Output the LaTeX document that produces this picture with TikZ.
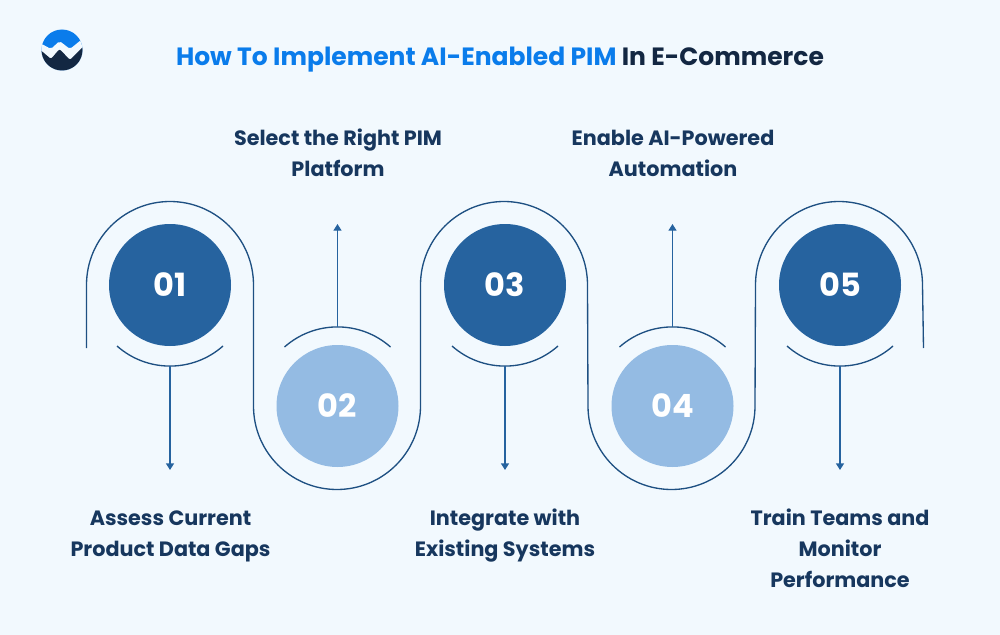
\documentclass[tikz,border=0pt]{standalone}
\usepackage{fontspec}
\setmainfont{Poppins}
\usepackage{xcolor}
\usetikzlibrary{positioning,arrows.meta,calc}
\definecolor{paper}{RGB}{242,249,254}
\definecolor{primary}{RGB}{38,99,159}
\definecolor{soft}{RGB}{148,187,227}
\definecolor{ink}{RGB}{23,55,94}
\definecolor{line}{RGB}{30,80,130}
\definecolor{headblue}{RGB}{10,124,235}
\definecolor{headink}{RGB}{19,39,66}

\begin{document}
\begin{tikzpicture}[
  x=0.75pt, y=-0.75pt,
  every node/.style={font=\fontsize{15.55pt}{23.2pt}\selectfont\bfseries, text=ink, align=center},
  dark/.style={circle, fill=primary, minimum size=91.5pt, inner sep=0pt, text=white, font=\fontsize{24pt}{26pt}\selectfont\bfseries},
  light/.style={circle, fill=soft, minimum size=91.5pt, inner sep=0pt, text=white, font=\fontsize{24pt}{26pt}\selectfont\bfseries},
  wave/.style={draw=line, line width=1pt},
  flow/.style={draw=primary, line width=1pt, -{Triangle[length=5pt,width=6pt]}}
]
  \useasboundingbox (0,0) rectangle (1000,635);
  \fill[paper] (0,0) rectangle (1000,635);

  % logo
  \begin{scope}
    \clip (62,50) circle (20.5);
    \fill[headblue] (40,28) rectangle (84,72);
    \fill[paper, rounded corners=1.5pt] (38,42) -- (51,49) -- (59.5,41) -- (70,49) -- (86,36) -- (86,74) -- (38,74) -- cycle;
    \fill[headink, rounded corners=1.5pt] (38,48) -- (51,59) -- (59.5,49) -- (70,60) -- (86,44) -- (86,74) -- (38,74) -- cycle;
  \end{scope}

  % title
  \node[font=\fontsize{18.75pt}{24pt}\selectfont\bfseries] (title) at (500,60) {\textcolor{headblue}{How To Implement AI-Enabled PIM} \textcolor{headink}{In E-Commerce}};

  % numbered circles
  \node[dark] (one) at (170,285) {01};
  \node[light] (two) at (337.5,406) {02};
  \node[dark] (three) at (505,285) {03};
  \node[light] (four) at (672.5,406) {04};
  \node[dark] (five) at (840,285) {05};

  % long line
  \draw[wave] (86.5,348) -- (86.5,285) arc[start angle=180, end angle=360, radius=83.5]
    -- (253.5,406) arc[start angle=180, end angle=0, radius=83.5]
    -- (420.5,285) arc[start angle=180, end angle=360, radius=83.5]
    -- (588,406) arc[start angle=180, end angle=0, radius=83.5]
    -- (755.5,285) arc[start angle=180, end angle=360, radius=83.5]
    -- (923.5,348);

  % small arcs
  \draw[wave] ($(one)+(-53,61)$) arc[start angle=131.5, end angle=48.5, radius=80];
  \draw[wave] ($(two)+(-53,-59)$) arc[start angle=228.5, end angle=311.5, radius=80];
  \draw[wave] ($(three)+(-53,61)$) arc[start angle=131.5, end angle=48.5, radius=80];
  \draw[wave] ($(four)+(-53,-59)$) arc[start angle=228.5, end angle=311.5, radius=80];
  \draw[wave] ($(five)+(-53,61)$) arc[start angle=131.5, end angle=48.5, radius=80];
  \coordinate (oneb) at ($(one)+(0,81)$);
  \coordinate (twob) at ($(two)+(0,-79)$);
  \coordinate (threeb) at ($(three)+(0,81)$);
  \coordinate (fourb) at ($(four)+(0,-79)$);
  \coordinate (fiveb) at ($(five)+(0,81)$);

  % labels
  \node (assess) at (170.5,536) {Assess Current\\Product Data Gaps};
  \node (select) at (338,153) {Select the Right PIM\\Platform};
  \node (integrate) at (505,536) {Integrate with\\Existing Systems};
  \node (enable) at (673,153.5) {Enable AI-Powered\\Automation};
  \node (train) at (840,548.5) {Train Teams and\\Monitor\\Performance};

  % arrow ends
  \coordinate (assessend) at (170,470);
  \coordinate (selectend) at (337.5,224);
  \coordinate (integrateend) at (505,470);
  \coordinate (enableend) at (672.5,224);
  \coordinate (trainend) at (840,470);

  \draw[flow] (oneb) -- (assessend);
  \draw[flow] (twob) -- (selectend);
  \draw[flow] (threeb) -- (integrateend);
  \draw[flow] (fourb) -- (enableend);
  \draw[flow] (fiveb) -- (trainend);
\end{tikzpicture}
\end{document}
